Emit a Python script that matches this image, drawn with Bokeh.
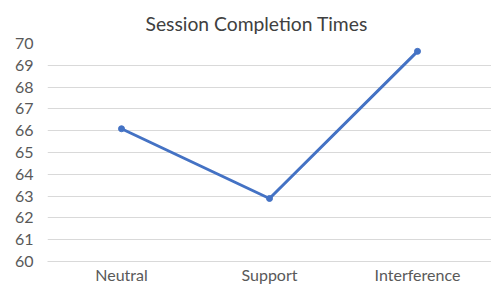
from bokeh.plotting import figure
from bokeh.models import Range1d, FixedTicker
from bokeh.embed import file_html
from bokeh.resources import INLINE

categories = ["Neutral", "Support", "Interference"]
times = [66.09, 62.89, 69.64]
y_ticks = list(range(60, 71))

p = figure(x_range=categories, y_range=Range1d(60, 70),
           frame_width=444, frame_height=218, output_backend="svg", toolbar_location=None,
           title="Session Completion Times",
           min_border_left=47, min_border_right=0, min_border_top=43, min_border_bottom=0)
p.x_range.range_padding = 0
p.outline_line_color = None
p.background_fill_color = "white"
p.border_fill_color = "white"

p.title.text_font = "Lato"
p.title.text_font_size = "19.3px"
p.title.text_font_style = "normal"
p.title.text_color = "#404040"
p.title.align = "left"
p.title.offset = 98
p.title.standoff = 17

p.line(categories, times, line_color="#4472C4", line_width=3)
p.scatter(categories, times, size=6, fill_color="#4472C4", line_color="#4472C4")

p.yaxis.ticker = FixedTicker(ticks=y_ticks)
p.yaxis.axis_line_color = None
p.yaxis.major_tick_line_color = None
p.yaxis.minor_tick_line_color = None
p.yaxis.major_label_text_font = "Lato"
p.yaxis.major_label_text_font_size = "16px"
p.yaxis.major_label_text_color = "#595959"
p.yaxis.major_label_standoff = 8

p.xaxis.axis_line_color = "#d9d9d9"
p.xaxis.major_tick_line_color = None
p.xaxis.minor_tick_line_color = None
p.xaxis.major_label_text_font = "Lato"
p.xaxis.major_label_text_font_size = "16px"
p.xaxis.major_label_text_color = "#595959"
p.xaxis.major_label_standoff = -3

p.xgrid.grid_line_color = None
p.ygrid.grid_line_color = "#d9d9d9"
p.ygrid.grid_line_width = 1

open("out.html", "w").write(file_html(p, INLINE))
